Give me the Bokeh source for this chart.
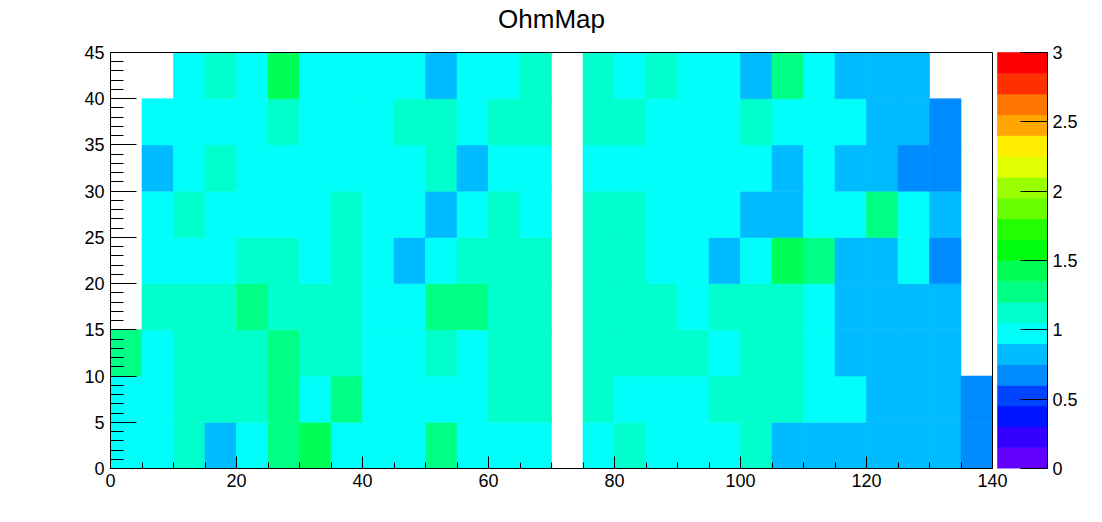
from bokeh.plotting import figure
from bokeh.models import (Range1d, SingleIntervalTicker, FixedTicker, LinearAxis,
                          ColumnDataSource)
from bokeh.core.properties import value
from bokeh.transform import linear_cmap
from bokeh.embed import file_html
from bokeh.resources import INLINE

# ---- data -------------------------------------------------------------
x_edges = [0, 5, 10, 15, 20, 25, 30, 35, 40, 45, 50, 55, 60, 65, 70,
           75, 80, 85, 90, 95, 100, 105, 110, 115, 120, 125, 130, 135, 140]
y_edges = [0, 5, 10, 15, 20, 25, 30, 35, 40, 45]

N = None
# rows from y=0..5 (bottom) to y=40..45 (top); 28 columns each
ohm_y00 = [0.98, 0.98, 1.12, 0.83, 0.98, 1.28, 1.42, 0.98, 0.98, 0.98, 1.28, 0.98, 0.98, 0.98,
           N, 0.98, 1.12, 0.98, 0.98, 0.98, 1.12, 0.83, 0.83, 0.83, 0.83, 0.83, 0.83, 0.68]
ohm_y05 = [0.98, 0.98, 1.12, 1.12, 1.12, 1.28, 0.98, 1.28, 0.98, 0.98, 0.98, 0.98, 1.12, 1.12,
           N, 1.12, 0.98, 0.98, 0.98, 1.12, 1.12, 1.12, 0.98, 0.98, 0.83, 0.83, 0.83, 0.68]
ohm_y10 = [1.28, 0.98, 1.12, 1.12, 1.12, 1.28, 1.12, 1.12, 0.98, 0.98, 1.12, 0.98, 1.12, 1.12,
           N, 1.12, 1.12, 1.12, 1.12, 0.98, 1.12, 1.12, 0.98, 0.83, 0.83, 0.83, 0.83, N]
ohm_y15 = [N, 1.12, 1.12, 1.12, 1.28, 1.12, 1.12, 1.12, 0.98, 0.98, 1.28, 1.28, 1.12, 1.12,
           N, 1.12, 1.12, 1.12, 0.98, 1.12, 1.12, 1.12, 0.98, 0.83, 0.83, 0.83, 0.83, N]
ohm_y20 = [N, 0.98, 0.98, 0.98, 1.12, 1.12, 0.98, 1.12, 0.98, 0.83, 0.98, 1.12, 1.12, 1.12,
           N, 1.12, 1.12, 0.98, 0.98, 0.83, 0.98, 1.42, 1.28, 0.83, 0.83, 0.98, 0.68, N]
ohm_y25 = [N, 0.98, 1.12, 0.98, 0.98, 0.98, 0.98, 1.12, 0.98, 0.98, 0.83, 0.98, 1.12, 0.98,
           N, 1.12, 1.12, 0.98, 0.98, 0.98, 0.83, 0.83, 0.98, 0.98, 1.28, 0.98, 0.83, N]
ohm_y30 = [N, 0.83, 0.98, 1.12, 0.98, 0.98, 0.98, 0.98, 0.98, 0.98, 1.12, 0.83, 0.98, 0.98,
           N, 0.98, 0.98, 0.98, 0.98, 0.98, 0.98, 0.83, 0.98, 0.83, 0.83, 0.68, 0.68, N]
ohm_y35 = [N, 0.98, 0.98, 0.98, 0.98, 1.12, 0.98, 0.98, 0.98, 1.12, 1.12, 0.98, 1.12, 1.12,
           N, 1.12, 1.12, 0.98, 0.98, 0.98, 1.12, 0.98, 0.98, 0.98, 0.83, 0.83, 0.68, N]
ohm_y40 = [N, N, 0.98, 1.12, 0.98, 1.42, 0.98, 0.98, 0.98, 0.98, 0.83, 0.98, 0.98, 1.12,
           N, 1.12, 0.98, 1.12, 0.98, 0.98, 0.83, 1.28, 0.98, 0.83, 0.83, 0.83, N, N]
ohm_rows = [ohm_y00, ohm_y05, ohm_y10, ohm_y15, ohm_y20, ohm_y25, ohm_y30, ohm_y35, ohm_y40]

z_min, z_max = 0.0, 3.0
palette = ["#6300ff", "#3300ff", "#0014ff", "#0044ff", "#008bff",
           "#00bbff", "#00fffb", "#00ffcc", "#00ff85", "#00ff55",
           "#00ff0e", "#22ff00", "#69ff00", "#99ff00", "#e0ff00",
           "#ffee00", "#ffa700", "#ff7700", "#ff3000", "#ff0000"]
cbar_ticks = [0, 0.5, 1, 1.5, 2, 2.5, 3]
cbar_labels = ["0", "0.5", "1", "1.5", "2", "2.5", "3"]
title_text = "OhmMap"

FONT = "Liberation Sans"

# ---- geometry (pixels) --------------------------------------------------
W, H = 1102, 522
LEFT, RIGHT_MAIN, RIGHT_CB, TOP, BOTTOM = 110, 992, 1047, 52, 468
CB_GAP = 5
TITLE_CENTER = 18
x_lo, x_hi = x_edges[0], x_edges[-1]
y_lo, y_hi = y_edges[0], y_edges[-1]
px_x = (RIGHT_MAIN - LEFT) / (x_hi - x_lo)
px_y = (BOTTOM - TOP) / (y_hi - y_lo)
px_z = (BOTTOM - TOP) / (z_max - z_min)
x_frame_max = x_hi + (RIGHT_CB - RIGHT_MAIN) / px_x
y_frame_max = y_hi + TOP / px_y
z_frame_max = z_max + TOP / px_z
cb_left = x_hi + CB_GAP / px_x

# ---- build cell table --------------------------------------------------
left, right, bottom, top, val = [], [], [], [], []
for r, rv in enumerate(ohm_rows):
    for c, v in enumerate(rv):
        if v is None:
            continue
        left.append(x_edges[c]); right.append(x_edges[c + 1])
        bottom.append(y_edges[r]); top.append(y_edges[r + 1])
        val.append(v)
src = ColumnDataSource(dict(left=left, right=right, bottom=bottom, top=top, val=val))

p = figure(width=W, height=H, output_backend="svg", toolbar_location=None,
           x_range=Range1d(x_lo, x_frame_max), y_range=Range1d(y_lo, y_frame_max),
           min_border_left=LEFT, min_border_right=W - RIGHT_CB,
           min_border_top=0, min_border_bottom=H - BOTTOM)
p.extra_y_ranges = {"cb": Range1d(z_min, z_frame_max)}

cmap = linear_cmap("val", palette, z_min, z_max)
p.quad(left="left", right="right", bottom="bottom", top="top", source=src,
       fill_color=cmap, line_color=cmap, line_width=0.6)

# colour bar bands
n = len(palette)
step = (z_max - z_min) / n
cb = ColumnDataSource(dict(b=[z_min + i * step for i in range(n)],
                           t=[z_min + (i + 1) * step for i in range(n)],
                           color=palette))
p.quad(left=cb_left, right=x_frame_max, bottom="b", top="t", y_range_name="cb",
       fill_color="color", line_color="color", line_width=0.6, source=cb)

# frame top and right edges of the main pad
p.segment(x0=[x_lo, x_hi], y0=[y_hi, y_lo], x1=[x_hi, x_hi], y1=[y_hi, y_hi],
          line_color="black", line_width=1)

# title
p.text(x=[(x_lo + x_hi) / 2], y=[y_hi + (TOP - TITLE_CENTER) / px_y], text=[title_text],
       text_align="center", text_baseline="middle",
       text_font=value(FONT), text_font_size="26px", text_color="black")

p.xgrid.visible = False
p.ygrid.visible = False
p.outline_line_color = None

xa = p.xaxis[0]
xa.bounds = (x_lo, x_hi)
xa.ticker = SingleIntervalTicker(interval=20, num_minor_ticks=4)
xa.major_tick_in = 12; xa.major_tick_out = 0
xa.minor_tick_in = 6; xa.minor_tick_out = 0
xa.major_label_standoff = 5
ya = p.yaxis[0]
ya.bounds = (y_lo, y_hi)
ya.ticker = SingleIntervalTicker(interval=5, num_minor_ticks=5)
ya.major_tick_in = 26; ya.major_tick_out = 0
ya.minor_tick_in = 13; ya.minor_tick_out = 0
ya.major_label_standoff = 6

ra = LinearAxis(y_range_name="cb", bounds=(z_min, z_max),
                ticker=FixedTicker(ticks=cbar_ticks, minor_ticks=[]))
ra.major_label_overrides = {t: l for t, l in zip(cbar_ticks, cbar_labels)}
ra.major_tick_in = 27; ra.major_tick_out = 0
ra.minor_tick_in = 0; ra.minor_tick_out = 0
ra.major_label_standoff = 5
p.add_layout(ra, "right")

for ax in (xa, ya, ra):
    ax.major_label_text_font = FONT
    ax.major_label_text_font_size = "18px"
    ax.major_label_text_color = "black"
    ax.axis_line_color = "black"
    ax.major_tick_line_color = "black"
    ax.minor_tick_line_color = "black"

open("out.html", "w").write(file_html(p, INLINE))
